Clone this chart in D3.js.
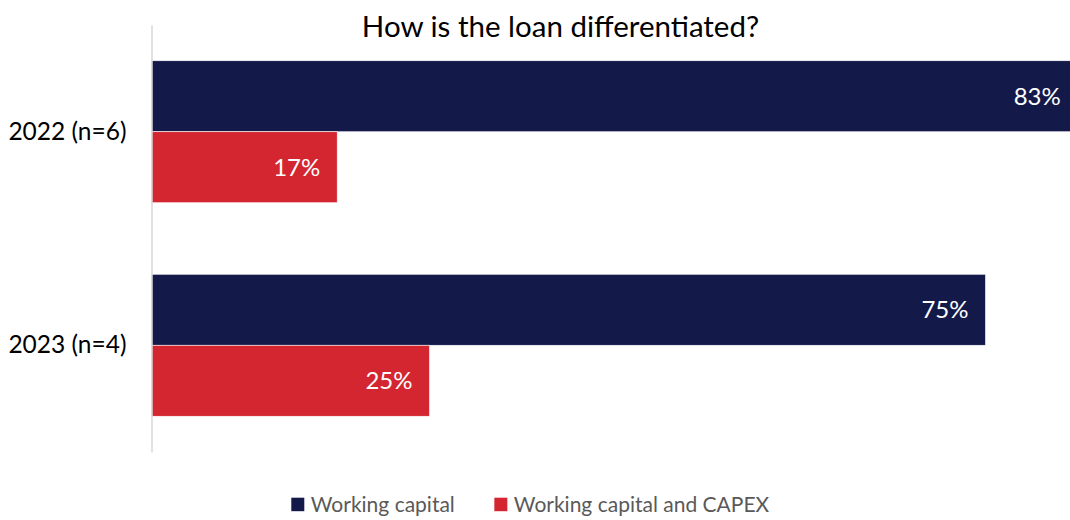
<!DOCTYPE html>
<html>
<head>
<meta charset="utf-8">
<script src="https://cdn.jsdelivr.net/npm/d3@7"></script>
<style>
  html, body { margin: 0; padding: 0; background: #ffffff; }
  svg { display: block; font-family: Lato, "Open Sans", sans-serif; }
</style>
</head>
<body>
<svg id="chart" width="1070" height="520"></svg>
<script>
// Survey years (with sample size) and the share of loans per purpose
const categories = ["2022 (n=6)", "2023 (n=4)"];
const seriesNames = ["Working capital", "Working capital and CAPEX"];
const workingCapital = [83.3, 75];
const workingCapitalCapex = [16.7, 25];
const seriesColors = ["#131A4A", "#D42630"];
const titleText = "How is the loan differentiated?";

const series = [workingCapital, workingCapitalCapex];
const rows = categories.map((c, i) => ({
  category: c,
  values: series.map((s, k) => ({ key: seriesNames[k], value: s[i], k }))
}));

const svg = d3.select("#chart");
const plot = { left: 151.5, top: 25, bottom: 452 };

const x = d3.scaleLinear().domain([0, 100]).range([plot.left, plot.left + 1112]);
const y = d3.scaleBand().domain(categories).range([plot.top, plot.bottom])
  .paddingInner(0.335).paddingOuter(0.1675).align(0.5);
const ySub = d3.scaleBand().domain(seriesNames).range([0, y.bandwidth()]).padding(0);

// Title
svg.append("text")
  .attr("x", 560.5).attr("y", 36.5)
  .attr("text-anchor", "middle")
  .attr("font-size", 29.5)
  .attr("fill", "#000000")
  .text(titleText);

// Bars
const groups = svg.append("g").selectAll("g").data(rows).join("g")
  .attr("transform", d => `translate(0,${y(d.category)})`);

groups.selectAll("rect").data(d => d.values).join("rect")
  .attr("x", x(0))
  .attr("y", d => ySub(d.key))
  .attr("width", d => x(d.value) - x(0))
  .attr("height", ySub.bandwidth())
  .attr("fill", d => seriesColors[d.k])
  .attr("stroke", "#ffffff")
  .attr("stroke-width", 0.6);

// Value labels inside the bar ends
groups.selectAll("text").data(d => d.values).join("text")
  .attr("x", d => x(d.value) - 17)
  .attr("y", d => ySub(d.key) + ySub.bandwidth() / 2)
  .attr("dy", "0.35em")
  .attr("text-anchor", "end")
  .attr("font-size", 24)
  .attr("fill", "#ffffff")
  .text(d => d3.format(".0f")(d.value) + "%");

// Category axis
const yAxis = svg.append("g")
  .attr("transform", `translate(${plot.left},0)`)
  .call(d3.axisLeft(y).tickSize(0).tickPadding(25));
yAxis.select(".domain").attr("stroke", "#D9D9D9").attr("stroke-width", 1.5);
yAxis.selectAll("text").attr("font-size", 24.5).attr("fill", "#000000")
  .attr("font-family", "Lato, 'Open Sans', sans-serif");

// Legend
const legend = svg.append("g");
let cx = 0;
seriesNames.forEach((name, k) => {
  const item = legend.append("g").attr("transform", `translate(${cx},0)`);
  item.append("rect").attr("x", 0).attr("y", -14).attr("width", 13).attr("height", 13.5)
    .attr("fill", seriesColors[k]);
  const t = item.append("text").attr("x", 19.5).attr("y", 0)
    .attr("font-size", 21).attr("fill", "#595959").text(name);
  cx += 19.5 + t.node().getComputedTextLength() + 39.5;
});
legend.attr("transform", `translate(291.3,511.7)`);
</script>
</body>
</html>
